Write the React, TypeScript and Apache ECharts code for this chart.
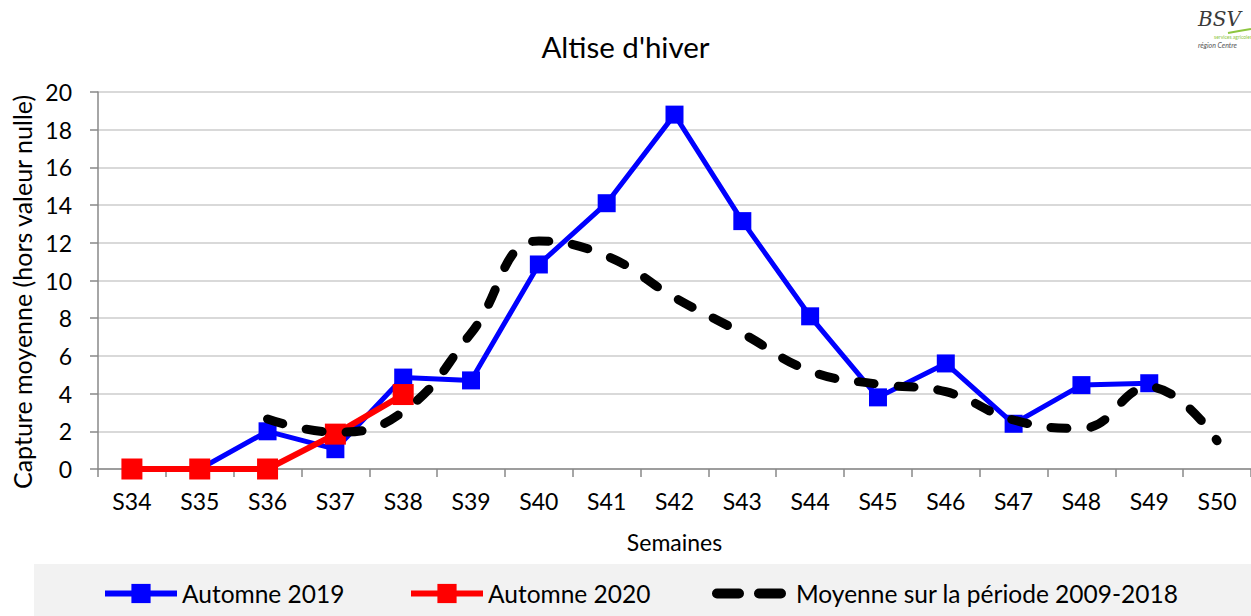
import React, { useEffect, useRef } from "react";
import * as echarts from "echarts";

const weeks = ["S34", "S35", "S36", "S37", "S38", "S39", "S40", "S41", "S42", "S43", "S44", "S45", "S46", "S47", "S48", "S49", "S50"];
const automne2019 = [0, 0, 2.0, 1.05, 4.85, 4.7, 10.85, 14.1, 18.8, 13.15, 8.1, 3.8, 5.6, 2.4, 4.45, 4.55, null];
const automne2020 = [0, 0, 0, 1.85, 3.95, null, null, null, null, null, null, null, null, null, null, null, null];
const moyenne = [null, null, 2.65, 1.95, 3.05, 7.2, 12.1, 11.3, 9.1, 7.2, 5.2, 4.5, 4.1, 2.6, 2.15, 4.35, 1.5];

const seriesNames = ["Automne 2019", "Automne 2020", "Moyenne sur la période 2009-2018"];
const FONT = "Lato";

export default function App() {
  const ref = useRef<HTMLDivElement>(null);
  useEffect(() => {
    const chart = echarts.init(ref.current!, null, { renderer: "svg" });
    const legendText = { fontFamily: FONT, fontSize: 24.5, color: "#000" };
    chart.setOption({
      animation: false,
      backgroundColor: "#fff",
      title: {
        text: "Altise d'hiver",
        left: "center",
        top: 31,
        padding: 0,
        textStyle: { fontFamily: FONT, fontSize: 29.5, fontWeight: "normal", color: "#000" },
      },
      grid: { left: 98, top: 92, width: 1153, height: 377, containLabel: false },
      legend: [
        {
          data: [seriesNames[0]], left: 102, top: 581, padding: 0, itemWidth: 72, itemHeight: 24, textStyle: legendText,
          lineStyle: { width: 6 },
        },
        {
          data: [seriesNames[1]], left: 408, top: 581, padding: 0, itemWidth: 72, itemHeight: 24, textStyle: legendText,
          lineStyle: { width: 6 },
        },
        {
          data: [seriesNames[2]], left: 712, top: 581, padding: 0, itemWidth: 74, itemHeight: 24, textStyle: legendText,
          lineStyle: { width: 10, type: [22, 20], cap: "round" },
          itemStyle: { opacity: 0 },
        },
      ],
      xAxis: {
        type: "category",
        data: weeks,
        boundaryGap: true,
        name: "Semaines",
        nameLocation: "middle",
        nameGap: 61,
        nameTextStyle: { fontFamily: FONT, fontSize: 23, color: "#000" },
        axisLine: { show: true, lineStyle: { color: "#898989", width: 1.5 } },
        axisTick: { show: true, length: 8, lineStyle: { color: "#898989", width: 1.5 } },
        axisLabel: { interval: 0, margin: 20, fontFamily: FONT, fontSize: 23, color: "#000" },
        splitLine: { show: false },
      },
      yAxis: {
        type: "value",
        min: 0,
        max: 20,
        interval: 2,
        axisLine: { show: true, lineStyle: { color: "#898989", width: 1.5 } },
        axisTick: { show: true, length: 8, lineStyle: { color: "#898989", width: 1.5 } },
        axisLabel: { margin: 26, fontFamily: FONT, fontSize: 23, color: "#000" },
        splitLine: { show: true, lineStyle: { color: "#d9d9d9", width: 2 } },
      },
      graphic: {
        elements: [
          { type: "rect", z: -10, shape: { x: 34, y: 564, width: 1217, height: 52 }, style: { fill: "#f2f2f2" } },
          {
            type: "text", x: 22, y: 292, rotation: Math.PI / 2,
            style: { text: "Capture moyenne (hors valeur nulle)", fontFamily: FONT, fontSize: 25, fill: "#000", align: "center", verticalAlign: "middle" },
          },
          { type: "text", x: 1198, y: 9, style: { text: "BSV", fontFamily: "DejaVu Serif", fontStyle: "italic", fontSize: 20, fill: "#3a3a3a" } },
          { type: "polyline", shape: { points: [[1228, 33], [1239, 31], [1251, 29]] }, style: { stroke: "#8dc63f", lineWidth: 2, fill: "none" } },
          { type: "text", x: 1214, y: 34, style: { text: "services agricoles", fontFamily: FONT, fontSize: 5, fill: "#8dc63f" } },
          { type: "text", x: 1198, y: 41, style: { text: "région Centre", fontFamily: FONT, fontStyle: "italic", fontSize: 7, fill: "#555" } },
        ],
      },
      series: [
        {
          name: seriesNames[0], type: "line", data: automne2019,
          symbol: "rect", symbolSize: 18, color: "#0000ff",
          lineStyle: { color: "#0000ff", width: 5 }, itemStyle: { color: "#0000ff" }, z: 2,
        },
        {
          name: seriesNames[1], type: "line", data: automne2020,
          symbol: "rect", symbolSize: 21, color: "#ff0000",
          lineStyle: { color: "#ff0000", width: 6 }, itemStyle: { color: "#ff0000" }, z: 3,
        },
        {
          name: seriesNames[2], type: "line", data: moyenne, smooth: 0.45,
          symbol: "none", color: "#000",
          lineStyle: { color: "#000", width: 9, type: [16, 24], cap: "round" }, itemStyle: { color: "#000" }, z: 4,
        },
      ],
    });
    return () => chart.dispose();
  }, []);
  return <div ref={ref} style={{ position: "absolute", left: 0, top: 0, width: 1251, height: 616 }} />;
}
